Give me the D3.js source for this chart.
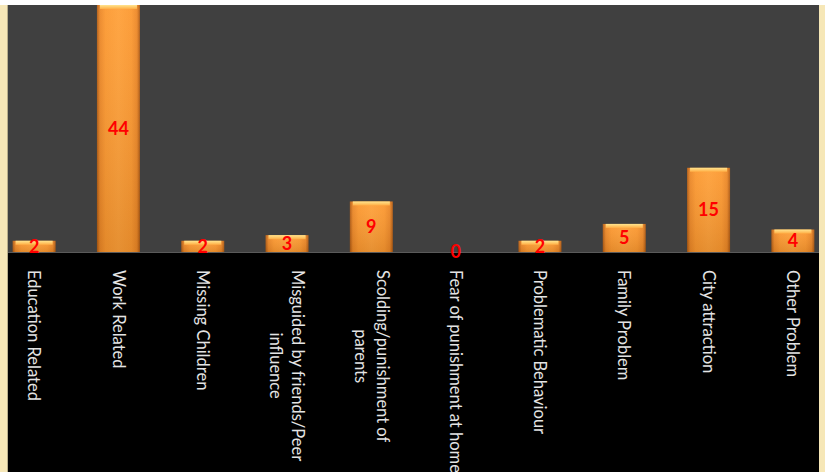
<!DOCTYPE html>
<html>
<head>
<meta charset="utf-8">
<script src="https://cdn.jsdelivr.net/npm/d3@7"></script>
<style>
  html, body { margin: 0; padding: 0; background: #fff; }
  svg { display: block; }
</style>
</head>
<body>
<svg id="chart"></svg>
<script>
// data
var categories = ["Education Related", "Work Related", "Missing Children",
    "Misguided by friends/Peer influence", "Scolding/punishment of parents",
    "Fear of punishment at home", "Problematic Behaviour", "Family Problem",
    "City attraction", "Other Problem"];
var counts = [2, 44, 2, 3, 9, 0, 2, 5, 15, 4];
// how the tick labels wrap in the picture
var tickLines = [["Education Related"], ["Work Related"], ["Missing Children"],
    ["Misguided by friends/Peer", "influence"], ["Scolding/punishment of", "parents"],
    ["Fear of punishment at home"], ["Problematic Behaviour"], ["Family Problem"],
    ["City attraction"], ["Other Problem"]];

var width = 825, height = 472;
var plot = {left: 8, right: 819, top: 5, base: 252, bottom: 472};

var svg = d3.select("#chart")
    .attr("width", width)
    .attr("height", height);

// frame: white strip on top, beige strips at the sides
svg.append("rect").attr("x", 0).attr("y", 0).attr("width", width).attr("height", height).attr("fill", "#fff");
svg.append("rect").attr("x", 0).attr("y", plot.top).attr("width", width).attr("height", height - plot.top).attr("fill", "#f6e7b7");
svg.append("rect").attr("x", plot.left - 1).attr("y", plot.top).attr("width", 1).attr("height", height - plot.top).attr("fill", "#b8ad8a");

// plot area and black label area
svg.append("rect")
    .attr("x", plot.left).attr("y", plot.top)
    .attr("width", plot.right - plot.left).attr("height", plot.base - plot.top)
    .attr("fill", "#404040");
svg.append("rect")
    .attr("x", plot.left).attr("y", plot.base)
    .attr("width", plot.right - plot.left).attr("height", plot.bottom - plot.base)
    .attr("fill", "#000");

var defs = svg.append("defs");
var side = defs.append("linearGradient").attr("id", "barSide")
    .attr("x1", 0).attr("x2", 1).attr("y1", 0).attr("y2", 0);
[[0, "#b05a12"], [0.07, "#ec8726"], [0.2, "#fc982f"], [0.5, "#ffa038"], [0.8, "#fc982f"], [0.93, "#ec8726"], [1, "#b05a12"]]
    .forEach(function (s) { side.append("stop").attr("offset", s[0]).attr("stop-color", s[1]); });
var shade = defs.append("linearGradient").attr("id", "barShade")
    .attr("x1", 0).attr("x2", 0).attr("y1", 0).attr("y2", 1);
shade.append("stop").attr("offset", 0).attr("stop-color", "#fff").attr("stop-opacity", 0.06);
shade.append("stop").attr("offset", 1).attr("stop-color", "#000").attr("stop-opacity", 0.1);
var cap = defs.append("linearGradient").attr("id", "barCap")
    .attr("x1", 0).attr("x2", 0).attr("y1", 0).attr("y2", 1);
cap.append("stop").attr("offset", 0).attr("stop-color", "#ffe58f");
cap.append("stop").attr("offset", 1).attr("stop-color", "#ffae45");

var x = d3.scalePoint()
    .domain(categories)
    .range([plot.left, plot.right])
    .padding(0.31);
var barWidth = x.step() * 0.51;

var y = d3.scaleLinear()
    .domain([0, 44])
    .range([plot.base, plot.top]);

var rows = categories.map(function (c, i) {
    return {name: c, value: counts[i], lines: tickLines[i]};
});

var bars = svg.append("g").selectAll("g")
    .data(rows)
    .enter().append("g")
    .filter(function (d) { return d.value > 0; });

bars.append("rect")
    .attr("x", function (d) { return x(d.name) - barWidth / 2; })
    .attr("y", function (d) { return y(d.value); })
    .attr("width", barWidth)
    .attr("height", function (d) { return y(0) - y(d.value); })
    .attr("fill", "url(#barSide)");
bars.append("rect")
    .attr("x", function (d) { return x(d.name) - barWidth / 2; })
    .attr("y", function (d) { return y(d.value); })
    .attr("width", barWidth)
    .attr("height", function (d) { return y(0) - y(d.value); })
    .attr("fill", "url(#barShade)");
bars.append("rect")
    .attr("x", function (d) { return x(d.name) - barWidth / 2 + 3; })
    .attr("y", function (d) { return y(d.value); })
    .attr("width", barWidth - 6)
    .attr("height", 4)
    .attr("fill", "url(#barCap)");

// baseline between the plot and the label area
svg.append("line")
    .attr("x1", plot.left).attr("x2", plot.right)
    .attr("y1", plot.base + 0.5).attr("y2", plot.base + 0.5)
    .attr("stroke", "#5a5a5a");

// value labels, centred in each bar
svg.append("g").selectAll("text")
    .data(rows)
    .enter().append("text")
    .attr("x", function (d) { return x(d.name); })
    .attr("y", function (d) { return (y(d.value) + y(0)) / 2; })
    .attr("dy", "0.36em")
    .attr("text-anchor", "middle")
    .style("font-family", "Lato, 'Open Sans', sans-serif")
    .style("font-weight", "bold")
    .style("font-size", "18px")
    .attr("fill", "#ff0000")
    .text(function (d) { return d.value; });

// rotated category labels
var lineGap = 22;
var labelTop = 270;
var labels = svg.append("g").selectAll("text")
    .data(rows)
    .enter().append("text")
    .style("font-family", "Lato, 'Open Sans', sans-serif")
    .style("font-size", "16.5px")
    .attr("fill", "#e4e4e4")
    .attr("text-anchor", "middle");

labels.each(function (d) {
    var t = d3.select(this);
    var n = d.lines.length;
    d.lines.forEach(function (line, i) {
        t.append("tspan")
            .attr("x", 0)
            .attr("y", (i - (n - 1) / 2) * lineGap)
            .attr("dy", "0.35em")
            .text(line);
    });
    var longest = d3.max(t.selectAll("tspan").nodes(), function (n) { return n.getComputedTextLength(); });
    t.attr("transform", "translate(" + x(d.name) + "," + (labelTop + longest / 2) + ") rotate(90)");
});
</script>
</body>
</html>
